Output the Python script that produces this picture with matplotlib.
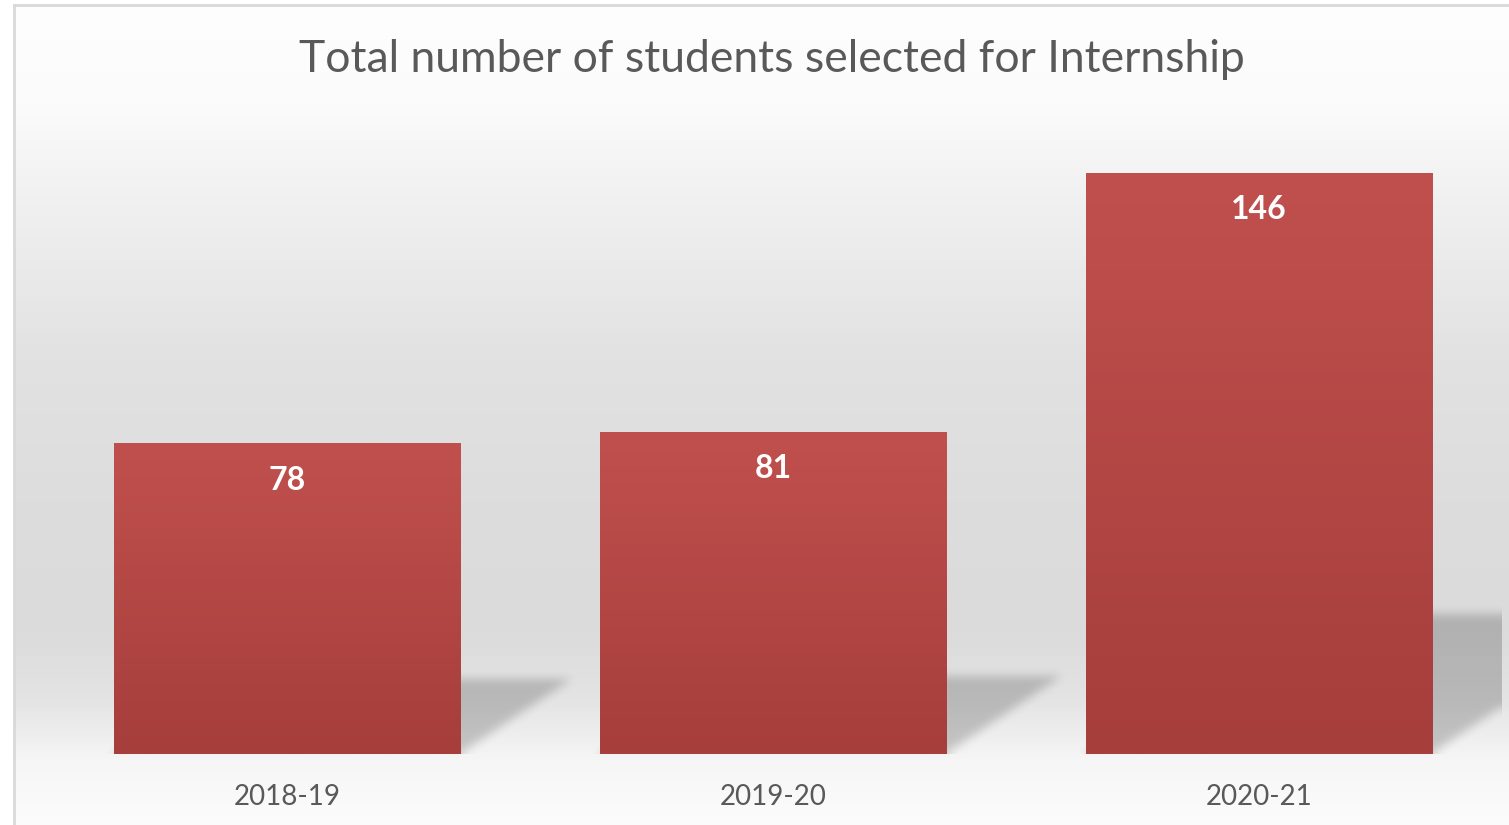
import numpy as np
import matplotlib.pyplot as plt

plt.rcParams['font.family'] = ['Lato', 'DejaVu Sans']

years = ['2018-19', '2019-20', '2020-21']
students = [78, 81, 146]

W, H, DPI = 1509, 825, 100
fig = plt.figure(figsize=(W / DPI, H / DPI), dpi=DPI)
fig.patch.set_facecolor('white')

# background gradient (white at top, grey in the middle, lighter at the bottom)
bg = fig.add_axes([0, 0, 1, 1], zorder=0)
bg.set_xlim(0, W)
bg.set_ylim(H, 0)
bg.axis('off')
rows = np.arange(H)
stops_y = [0, 100, 200, 350, 500, 630, 700, 760, 825]
stops_v = [254, 251, 240, 226, 221, 219, 228, 246, 252]
col = np.interp(rows, stops_y, stops_v) / 255.0
grad = np.repeat(col[:, None], 2, axis=1)
bg.imshow(np.dstack([grad, grad, grad]), extent=[14, W, H, 5], aspect='auto',
          interpolation='bilinear')
bg.plot([14, 14], [5, H], color='#d9d9d9', lw=2)
bg.plot([14, W], [5, 5], color='#d9d9d9', lw=2)

# plot area
left, right, bottom, ymax_px = 44, 1502, 754, 117
ax = fig.add_axes([left / W, (H - bottom) / H, (right - left) / W, (bottom - ymax_px) / H],
                  zorder=1)
ax.set_facecolor('none')
ymax = 160
for s in ax.spines.values():
    s.set_visible(False)
ax.set_yticks([])

x = np.arange(len(years))
width = 0.712

# blurred perspective shadows behind the bars
nx, ny = right - left, bottom - ymax_px
gx = np.linspace(-0.5, len(years) - 0.5, nx)
gy = np.linspace(0, ymax, ny)
XX, YY = np.meshgrid(gx, gy)
mask = np.zeros_like(XX)
px_x = len(years) / nx
for xi, v in zip(x, students):
    hs = 0.24 * v
    dx = 1.49 * (hs / ymax * ny) * px_x
    t = np.clip(YY / hs, 0, None)
    xs = XX - t * dx
    inside = (YY >= 0) & (YY <= hs) & (xs >= xi - width / 2) & (xs <= xi + width / 2)
    mask[inside] = 1.0


def box_blur(a, r, axis):
    c = np.cumsum(np.pad(a, [(r + 1, r) if i == axis else (0, 0) for i in range(2)],
                         mode='edge'), axis=axis)
    if axis == 0:
        return (c[2 * r + 1:] - c[:-2 * r - 1]) / (2 * r + 1)
    return (c[:, 2 * r + 1:] - c[:, :-2 * r - 1]) / (2 * r + 1)


for _ in range(3):
    mask = box_blur(mask, 4, 0)
    mask = box_blur(mask, 4, 1)
shadow = np.zeros((ny, nx, 4))
shadow[..., 3] = mask * 0.19
ax.imshow(shadow, extent=[-0.5, len(years) - 0.5, 0, ymax], origin='lower',
          aspect='auto', zorder=1, interpolation='bilinear')

# bars with a vertical red gradient
bars = ax.bar(x, students, width=width, color='#b34746', zorder=2)
top_c = np.array([192, 80, 77]) / 255
bot_c = np.array([166, 62, 60]) / 255
g = np.linspace(0, 1, 256)[:, None]
bar_grad = bot_c[None, None, :] * (1 - g[..., None]) + top_c[None, None, :] * g[..., None]
for b in bars:
    im = ax.imshow(bar_grad, extent=[b.get_x(), b.get_x() + b.get_width(), 0, b.get_height()],
                   origin='lower', aspect='auto', zorder=3)
    im.set_clip_path(b)
    ax.annotate(str(int(b.get_height())), (b.get_x() + b.get_width() / 2, b.get_height()),
                xytext=(0, -26.5), textcoords='offset points', ha='center', va='center',
                color='white', fontsize=23, fontweight='bold', zorder=4)

ax.set_xlim(-0.5, len(years) - 0.5)
ax.set_ylim(0, ymax)
ax.set_xticks(x)
ax.set_xticklabels(years, fontsize=20, color='#595959')
ax.tick_params(axis='x', length=0, pad=21.5)

fig.text(772 / W, 1 - 59 / H, 'Total number of students selected for Internship',
         ha='center', va='center', fontsize=32, color='#595959')

fig.savefig('out.png', dpi=DPI)
